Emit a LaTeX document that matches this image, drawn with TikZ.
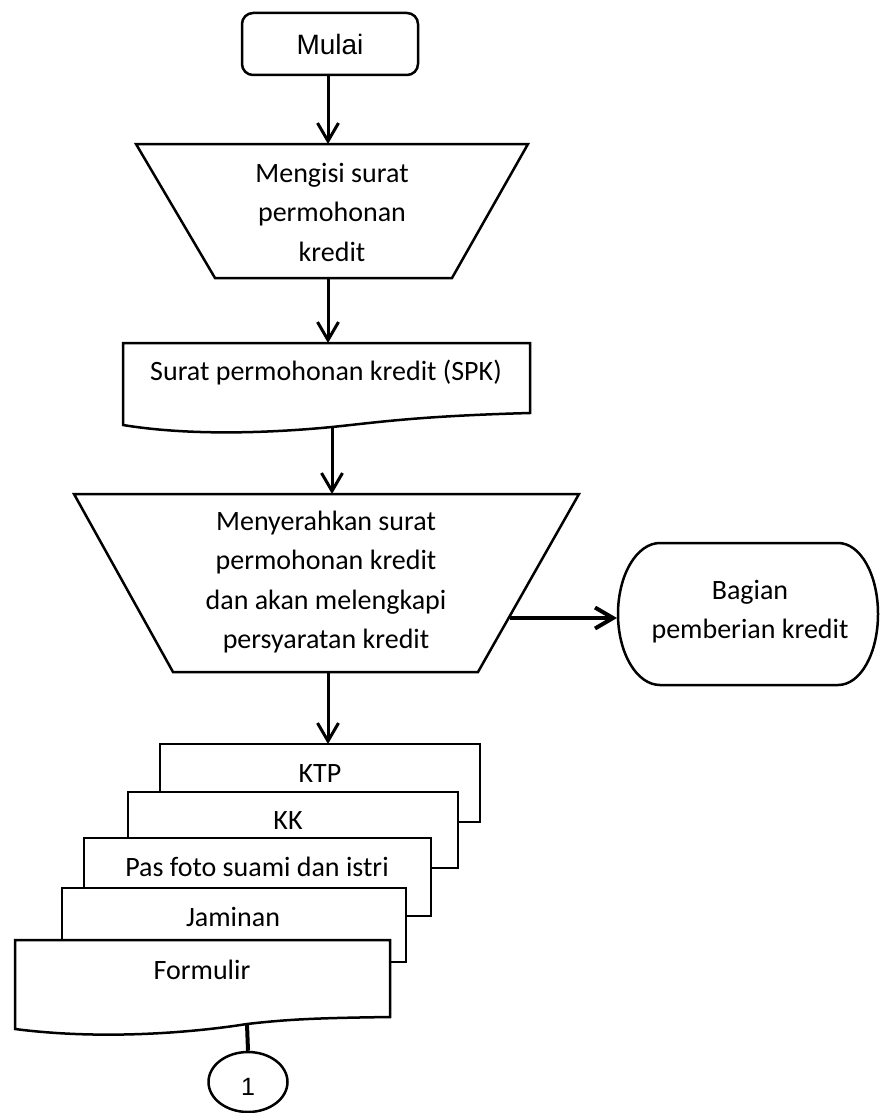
\documentclass[tikz,border=0pt]{standalone}
\usepackage{fontspec}
\setmainfont{Carlito}
\newfontfamily\arialfont{Liberation Sans}
\usetikzlibrary{arrows.meta,shapes.geometric}

\begin{document}
\begin{tikzpicture}[x=1pt,y=-1pt,
  box/.style={draw=black,line width=2.5pt,fill=white,line join=miter},
  lbl/.style={font=\fontsize{28}{39.5}\selectfont,align=center,inner sep=0pt},
  flow/.style={line width=3pt,-{Straight Barb[length=18pt,width=21pt]}},
]
\useasboundingbox (0,0) rectangle (880,1113);

% start terminal
\node[draw,rounded corners=11pt,line width=2.5pt,minimum width=176pt,minimum height=62pt,
      inner sep=0pt,font=\arialfont\fontsize{28}{32}\selectfont] (mulai) at (330,44) {Mulai};

% manual operation: filling in the application
\draw[box] (136,144) -- (528,144) -- (452,278) -- (215,278) -- cycle;
\coordinate (isiTop) at (328,144);
\coordinate (isiBot) at (328,278);
\node[lbl] (isi) at (332,212) {Mengisi surat\\permohonan\\kredit};

% document: application letter
\draw[box] (123,343) -- (530,343) -- (530,413)
  .. controls (420,416) and (380,422) .. (332,427)
  .. controls (270,433) and (190,436) .. (123,425) -- cycle;
\coordinate (spkTop) at (328,343);
\coordinate (spkBot) at (332,427);
\node[lbl] (spk) at (326,373) {Surat permohonan kredit (SPK)};

% manual operation: handing over the letter
\draw[box] (74,494) -- (579,494) -- (478,672) -- (173,672) -- cycle;
\coordinate (serahTop) at (332,494);
\coordinate (serahBot) at (328,672);
\coordinate (serahR) at (510,618);
\node[lbl] (serah) at (326,582) {Menyerahkan surat\\permohonan kredit\\dan akan melengkapi\\persyaratan kredit};

% terminal: credit department
\draw[box] (660,543) -- (838,543)
  .. controls (860.6,543) and (878,574.8) .. (878,614)
  .. controls (878,653.2) and (860.6,685) .. (838,685)
  -- (660,685)
  .. controls (636.8,685) and (618,653.2) .. (618,614)
  .. controls (618,574.8) and (636.8,543) .. (660,543) -- cycle;
\coordinate (bagianL) at (617,618);
\node[lbl,font=\fontsize{28}{39}\selectfont] (bagian) at (750,612) {Bagian\\pemberian kredit};

% stack of requirement documents, back to front
\draw[box] (160,744) rectangle (480,822);
\coordinate (ktpTop) at (328,744);
\node[lbl] (ktp) at (320,774) {KTP};

\draw[box] (128,792) rectangle (458,868);
\node[lbl] (kk) at (288,821) {KK};

\draw[box] (84,838) rectangle (431,916);
\node[lbl] (foto) at (257,867) {Pas foto suami dan istri};

\draw[box] (62,888) rectangle (406,962);
\node[lbl] (jaminan) at (233,917) {Jaminan};

\draw[box] (15,940) -- (390,940) -- (390,1017)
  .. controls (320,1018) and (290,1019) .. (247,1024)
  .. controls (190,1033) and (100,1040) .. (15,1029) -- cycle;
\coordinate (formBot) at (247,1024);
\node[lbl] (formulir) at (202,970) {Formulir};

% off-page connector
\node[draw,ellipse,line width=2.5pt,minimum width=79pt,minimum height=60pt,inner sep=0pt] (con) at (248,1082) {};
\node[font=\arialfont\fontsize{25}{28}\selectfont,inner sep=0pt] (conTxt) at (248,1087) {1};

% connectors
\draw[flow] (mulai.south -| isiTop) -- (isiTop);
\draw[flow] (isiBot) -- (spkTop);
\draw[flow] (spkBot) -- (serahTop);
\draw[flow] (serahBot) -- (ktpTop);
\draw[flow,line width=4pt] (serahR) -- (bagianL);
\draw[line width=4pt] (formBot) -- (con.north);
\end{tikzpicture}
\end{document}
